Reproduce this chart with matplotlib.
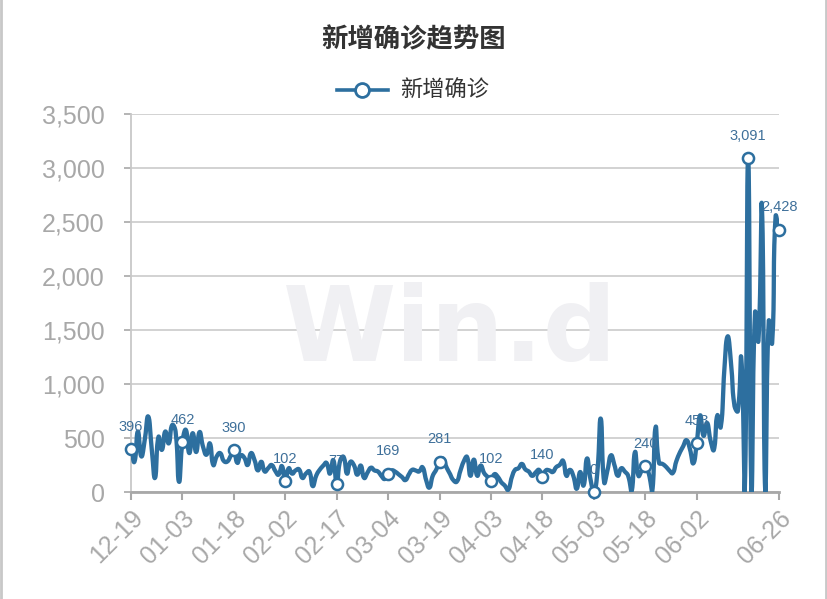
import numpy as np
import matplotlib
matplotlib.use("Agg")
import matplotlib.pyplot as plt
from matplotlib.ticker import FuncFormatter, MultipleLocator

plt.rcParams['font.family'] = ['Noto Sans CJK SC', 'DejaVu Sans']

title = "新增确诊趋势图"
series_name = "新增确诊"

# daily new confirmed cases, 12-19 .. 06-26 (190 days)
values = [
    396, 280, 560, 330, 480, 700, 420, 130, 510, 390,
    560, 450, 620, 560, 95, 462, 575, 360, 545, 370,
    555, 420, 345, 450, 250, 330, 360, 290, 280, 330,
    390, 270, 340, 320, 250, 360, 300, 200, 280, 190,
    220, 250, 200, 160, 240, 102, 220, 170, 200, 210,
    130, 170, 190, 55, 150, 205, 240, 270, 170, 295,
    77, 290, 325, 170, 280, 250, 160, 245, 130, 180,
    225, 200, 190, 150, 120, 169, 200, 190, 165, 140,
    110, 160, 205, 200, 190, 230, 120, 40, 150, 205,
    281, 310, 230, 170, 110, 95, 190, 280, 325, 150,
    300, 150, 245, 175, 140, 102, 165, 140, 90, 60,
    20, 130, 205, 220, 260, 210, 190, 150, 180, 205,
    140, 200, 200, 185, 230, 250, 290, 150, 205, 150,
    30, 185, 60, 310, 120, 0, 175, 680, 90, 205,
    340, 250, 150, 220, 190, 150, 5, 370, 150, 200,
    240, 175, 0, 600, 270, 260, 235, 200, 175, 280,
    360, 420, 480, 400, 265, 453, 710, 520, 640, 480,
    390, 710, 600, 1100, 1440, 1200, 800, 750, 1240, 0,
    3091, 0, 1660, 1400, 2650, 0, 1580, 1380, 2550, 2428,
]

# tick labels every 15 days (06-17 hidden by overlap) + last day
tick_days = [0, 15, 30, 45, 60, 75, 90, 105, 120, 135, 150, 165, 189]
tick_labels = ["12-19", "01-03", "01-18", "02-02", "02-17", "03-04", "03-19",
               "04-03", "04-18", "05-03", "05-18", "06-02", "06-26"]
# points carrying a marker and a value label
marked_days = [0, 15, 30, 45, 60, 75, 90, 105, 120, 135, 150, 165, 180, 189]

y = np.array(values, dtype=float)
x = np.arange(len(y), dtype=float)

LINE = '#2d6f9f'
GRAY = '#a8a8a8'

fig = plt.figure(figsize=(8.28, 5.99), dpi=100)
fig.patch.set_facecolor('white')
ax = fig.add_axes([131/828, 1-492/599, (779-131)/828, (492-114)/599])
ax.set_xlim(0, len(y)-1)
ax.set_ylim(0, 3500)

# smooth curve (echarts-like bezier smoothing)
sx = (779-131)/(len(y)-1)
sy = (492-114)/3500
P = np.column_stack([x*sx, y*sy])
n = len(P)
cin = np.zeros_like(P); cout = np.zeros_like(P)
sm = 0.5
for i in range(n):
    prev = P[i-1] if i > 0 else P[i]
    nxt = P[i+1] if i < n-1 else P[i]
    v = (nxt - prev) * sm
    d0 = np.hypot(*(P[i]-prev)); d1 = np.hypot(*(nxt-P[i]))
    s = d0 + d1
    r0, r1 = (d0/s, d1/s) if s > 0 else (0.5, 0.5)
    cin[i] = P[i] - v*r0
    cout[i] = P[i] + v*r1
lo, hi = P[:, 1].min(), P[:, 1].max()
cin[:, 1] = np.clip(cin[:, 1], lo, hi)
cout[:, 1] = np.clip(cout[:, 1], lo, hi)
t = np.linspace(0, 1, 16)[:, None]
pts = []
for i in range(n-1):
    b = ((1-t)**3)*P[i] + 3*((1-t)**2)*t*cout[i] + 3*(1-t)*t**2*cin[i+1] + t**3*P[i+1]
    pts.append(b if i == 0 else b[1:])
pts = np.vstack(pts)
ax.plot(pts[:, 0]/sx, pts[:, 1]/sy, color=LINE, lw=3.1, solid_joinstyle='round',
        solid_capstyle='round', zorder=3, clip_on=True)

mx = np.array(marked_days)
ax.plot(mx, y[mx], 'o', ms=8, mfc='white', mec=LINE, mew=1.8, zorder=4, clip_on=False)
for d in marked_days:
    ax.annotate(f"{int(y[d]):,}", (d, y[d]), xytext=(0, 11), textcoords='offset points',
                ha='center', va='bottom', fontsize=10.5, color='#3f709a', zorder=5,
                family=['Liberation Sans', 'DejaVu Sans'])

# watermark
fig.text(450/828, 1-333/599, "Win.d", ha='center', va='center', fontsize=74,
         fontweight='bold', color='#f0f0f3', zorder=0, family='DejaVu Sans')

ax.yaxis.set_major_locator(MultipleLocator(500))
ax.yaxis.set_major_formatter(FuncFormatter(lambda v, p: f"{int(v):,}"))
ax.grid(axis='y', color='#cfcfcf', lw=1.3)
ax.set_axisbelow(True)
ax.set_xticks(tick_days)
ax.set_xticklabels(tick_labels, rotation=45, ha='right', va='top',
                   rotation_mode='anchor')
for lab in ax.get_xticklabels() + ax.get_yticklabels():
    lab.set_family(['Liberation Sans', 'DejaVu Sans'])
    lab.set_fontsize(18)
    lab.set_color(GRAY)
ax.tick_params(axis='x', length=6, width=1.5, color=GRAY, pad=4)
ax.tick_params(axis='y', length=5, width=1.2, color=GRAY, pad=14)
for s in ['top', 'right']:
    ax.spines[s].set_visible(False)
ax.spines['bottom'].set_color(GRAY)
ax.spines['bottom'].set_linewidth(2)
ax.spines['left'].set_color('#c8c8c8')
ax.spines['left'].set_linewidth(1.3)
ax.patch.set_alpha(0)

fig.text(414/828, 1-40/599, title, ha='center', va='center', fontsize=19,
         fontweight='bold', color='#333333')
# legend
fig.add_artist(plt.Line2D([337/828, 388/828], [1-90/599]*2, color=LINE, lw=2.6,
                          transform=fig.transFigure))
fig.add_artist(plt.Line2D([362/828], [1-90/599], marker='o', ms=10, mfc='white',
                          mec=LINE, mew=2, transform=fig.transFigure))
fig.text(400/828, 1-90/599, series_name, ha='left', va='center', fontsize=16,
         color='#333333')

# side borders
fig.add_artist(plt.Line2D([1/828, 1/828], [0, 1], color='#c8c8c8', lw=2,
                          transform=fig.transFigure))
fig.add_artist(plt.Line2D([826/828, 826/828], [0, 1], color='#c8c8c8', lw=2,
                          transform=fig.transFigure))
fig.savefig("out.png", dpi=100, facecolor=fig.get_facecolor())
